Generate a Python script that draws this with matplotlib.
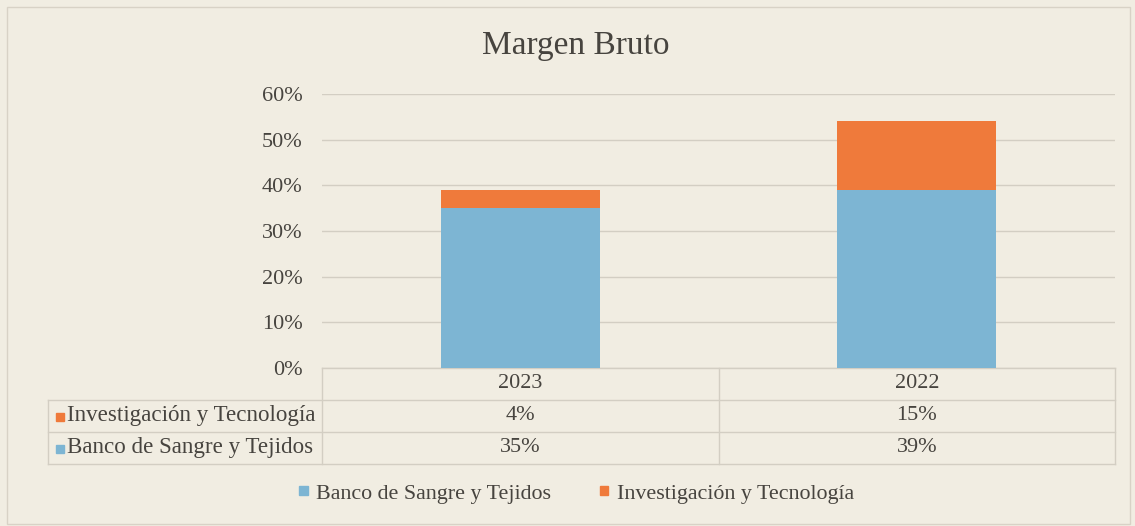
import numpy as np
import matplotlib.pyplot as plt
from matplotlib.patches import Rectangle
import matplotlib.transforms as mtransforms

# chart data
years = ['2023', '2022']
series_names = ['Banco de Sangre y Tejidos', 'Investigación y Tecnología']
banco = [0.35, 0.39]
investigacion = [0.04, 0.15]
yticks = [0.0, 0.1, 0.2, 0.3, 0.4, 0.5, 0.6]

blue = '#7db5d3'
orange = '#ef7a3b'
paper = '#f1ede2'
grid_c = '#d3cec3'
text_c = '#47443f'
fs = 16

plt.rcParams['font.family'] = ['Liberation Serif', 'DejaVu Serif']

fig = plt.figure(figsize=(11.35, 5.26), dpi=100, facecolor=paper)
ax = fig.add_axes([322 / 1135, 1 - 368 / 526, 793 / 1135, (368 - 94) / 526])
ax.set_facecolor(paper)

x = np.arange(len(years))
ax.bar(x, banco, width=0.4, color=blue, zorder=3)
ax.bar(x, investigacion, width=0.4, bottom=banco, color=orange, zorder=3)

ax.set_xlim(-0.5, len(years) - 0.5)
ax.set_ylim(0, 0.6)
ax.set_yticks(yticks)
ax.set_yticklabels([f'{int(round(v * 100))}%' for v in yticks], fontsize=fs, color=text_c)
ax.tick_params(axis='y', length=0, pad=14)
ax.set_xticks([])
ax.grid(axis='y', color=grid_c, linewidth=1, zorder=0)
for s in ax.spines.values():
    s.set_visible(False)

fig.text(0.507, 1 - 46 / 526, 'Margen Bruto', fontsize=24, color=text_c,
         ha='center', va='center')

# data table below the axis (x in data coords, y in axes coords)
trans = mtransforms.blended_transform_factory(ax.transData, ax.transAxes)
row_h = 0.1165
left_x = -1.19
line_kw = dict(transform=trans, clip_on=False, color=grid_c, linewidth=1)

# horizontal lines
ax.plot([-0.5, 1.5], [0, 0], **line_kw)
for i in range(1, 4):
    ax.plot([left_x, 1.5], [-i * row_h, -i * row_h], **line_kw)
# vertical lines
ax.plot([left_x, left_x], [-row_h, -3 * row_h], **line_kw)
for xv in [-0.5, 0.5, 1.5]:
    ax.plot([xv, xv], [0, -3 * row_h], **line_kw)

rows = [(series_names[1], investigacion, orange), (series_names[0], banco, blue)]
for j, yr in enumerate(years):
    ax.text(j, -0.5 * row_h, yr, transform=trans, ha='center', va='center',
            fontsize=fs, color=text_c)
for i, (name, vals, col) in enumerate(rows):
    yc = -(i + 1.5) * row_h
    ax.plot([left_x + 0.028], [yc - 0.004], marker='s', markersize=5.5, color=col,
            transform=trans, clip_on=False, linestyle='none')
    ax.text(left_x + 0.048, yc, name, transform=trans, ha='left', va='center',
            fontsize=16.6, color=text_c)
    for j, v in enumerate(vals):
        ax.text(j, yc, f'{int(round(v * 100))}%', transform=trans, ha='center',
                va='center', fontsize=fs, color=text_c)

# legend
handles = [Rectangle((0, 0), 1, 1, color=blue), Rectangle((0, 0), 1, 1, color=orange)]
fig.legend(handles, series_names, loc='center', bbox_to_anchor=(0.508, 1 - 494 / 526),
           ncol=2, frameon=False, fontsize=15.8, handlelength=0.4, handleheight=0.3,
           handletextpad=0.4, columnspacing=2.2, labelcolor=text_c)

# outer frame
fig.patches.append(Rectangle((7 / 1135, 0.003), 1 - 12 / 1135, 1 - 7 / 526 - 0.003,
                             transform=fig.transFigure, fill=False,
                             edgecolor='#d8d2c6', linewidth=1))

fig.savefig('out.png', dpi=100, facecolor=paper)
